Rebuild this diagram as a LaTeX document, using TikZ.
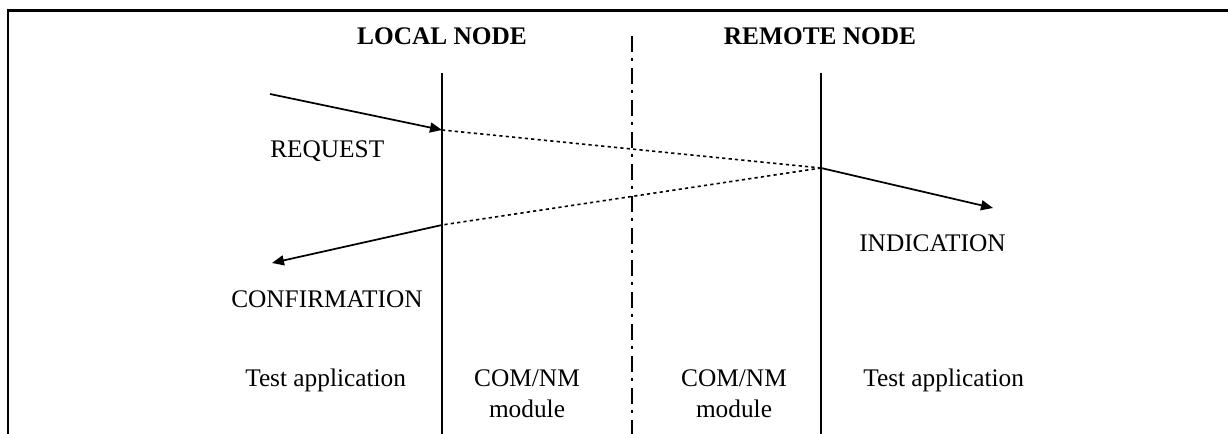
\documentclass[tikz,border=0pt]{standalone}
\usepackage{fontspec}
\setmainfont{Liberation Serif}
\usetikzlibrary{arrows.meta}
\begin{document}
\begin{tikzpicture}[x=0.75pt,y=-0.75pt,
  txt/.style={inner sep=0pt, font=\fontsize{19}{23}\selectfont},
  title/.style={inner sep=0pt, font=\fontsize{19}{23}\selectfont\bfseries},
  frameline/.style={line width=2pt},
  lifeline/.style={line width=1.5pt},
  sepline/.style={line width=1.5pt, dash pattern=on 12pt off 4.5pt on 2.25pt off 5.25pt},
  msg/.style={line width=1.3pt, -{Triangle[length=9pt,width=7.5pt]}},
  link/.style={line width=1.2pt, dash pattern=on 2.4pt off 2.4pt},
]
\useasboundingbox (0,0) rectangle (1228,434);
% frame
\coordinate (frTR) at (1228,10.5);
\coordinate (frTL) at (8,10.5);
\coordinate (frBL) at (8,434);
\draw[frameline] (frTR) -- (frTL) -- (frBL);
% titles
\node[title, anchor=base] (local) at (442,45) {LOCAL NODE};
\node[title, anchor=base] (remote) at (820,45) {REMOTE NODE};
% lines
\coordinate (locTop) at (442,73);
\coordinate (locBot) at (442,434);
\coordinate (remTop) at (821,73);
\coordinate (remBot) at (821,434);
\coordinate (sepTop) at (632,36);
\coordinate (sepBot) at (632,434);
\draw[lifeline] (locTop) -- (locBot);
\draw[lifeline] (remTop) -- (remBot);
\draw[sepline] (sepTop) -- (sepBot);
% messages
\coordinate (reqFrom) at (270,94);
\coordinate (reqAt) at (442,130);
\coordinate (indAt) at (821,168);
\coordinate (indTo) at (993,208);
\coordinate (cnfAt) at (442,225);
\coordinate (cnfTo) at (272,263);
\draw[msg] (reqFrom) -- (reqAt);
\draw[link] (reqAt) -- (indAt);
\draw[msg] (indAt) -- (indTo);
\draw[link] (indAt) -- (cnfAt);
\draw[msg] (cnfAt) -- (cnfTo);
% labels
\node[txt, anchor=base west] (req) at (270,158) {REQUEST};
\node[txt, anchor=base west] (ind) at (859,252) {INDICATION};
\node[txt, anchor=base west] (cnf) at (231,308) {CONFIRMATION};
% bottom labels
\node[txt, anchor=base west] (appL) at (245,387) {Test application};
\node[txt, anchor=base] (comL) at (527,387) {COM/NM};
\node[txt, anchor=base] (modL) at (527,418) {module};
\node[txt, anchor=base] (comR) at (734,387) {COM/NM};
\node[txt, anchor=base] (modR) at (734,418) {module};
\node[txt, anchor=base west] (appR) at (863,387) {Test application};
\end{tikzpicture}
\end{document}
